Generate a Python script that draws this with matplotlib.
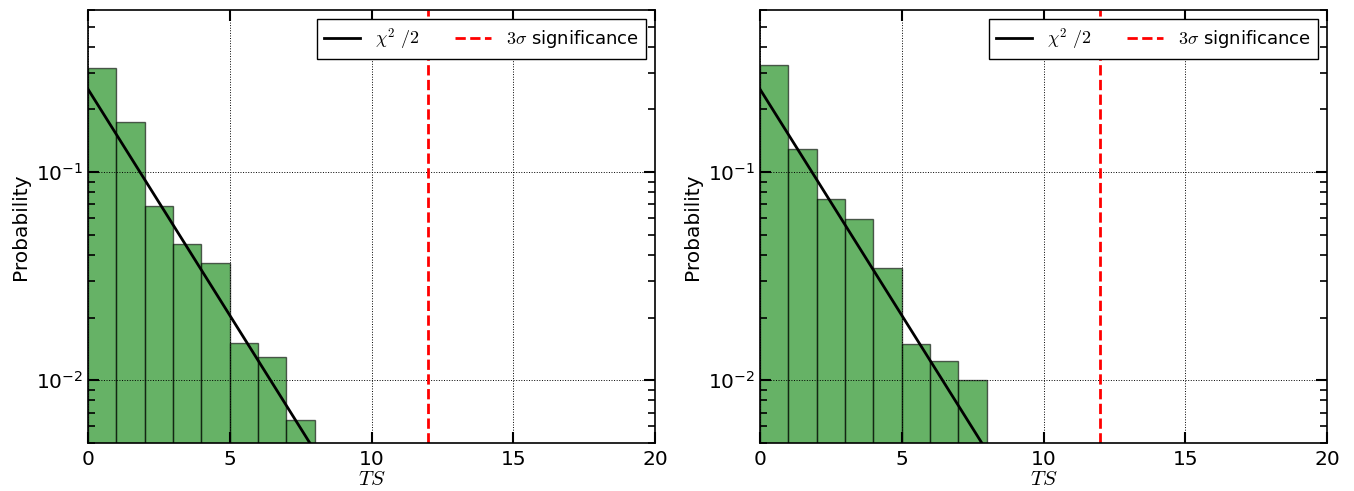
import numpy as np
import matplotlib
matplotlib.use('Agg')
import matplotlib.pyplot as plt
from matplotlib.ticker import LogLocator, MultipleLocator

# histogram of TS values (probability per unit bin)
bin_edges = [0, 1, 2, 3, 4, 5, 6, 7, 8]
prob_left = [0.316, 0.174, 0.069, 0.0452, 0.0365, 0.0151, 0.0129, 0.00646]
prob_right = [0.328, 0.129, 0.0745, 0.0595, 0.0348, 0.0150, 0.01243, 0.0100]
ts_3sigma = 12
ts_grid = np.linspace(0, 20, 400)
chi2_half = 0.25 * np.exp(-ts_grid / 2)  # chi^2 (2 dof) / 2

plt.rcParams['font.family'] = 'DejaVu Sans'
plt.rcParams['mathtext.fontset'] = 'cm'

fig = plt.figure(figsize=(13.54, 4.91), dpi=100)
ax1 = fig.add_axes([0.065, 0.0978, 0.4188, 0.8818])
ax2 = fig.add_axes([0.5613, 0.0978, 0.4188, 0.8818])

for ax, probs in [(ax1, prob_left), (ax2, prob_right)]:
    centers = np.array(bin_edges[:-1]) + 0.5
    ax.hist(centers, bins=bin_edges, weights=probs, color='green', alpha=0.6,
            edgecolor='black', linewidth=1.0)
    ax.plot(ts_grid, chi2_half, color='black', lw=2, label=r'$\chi^2\ /2$')
    ax.axvline(ts_3sigma, color='red', ls='--', lw=2, label=r'$3\sigma$ significance')
    ax.set_yscale('log')
    ax.set_xlim(0, 20)
    ax.set_ylim(0.005, 0.6)
    ax.xaxis.set_major_locator(MultipleLocator(5))
    ax.yaxis.set_minor_locator(LogLocator(base=10, subs=np.arange(2, 10)))
    ax.grid(True, which='major', color='black', ls=':', lw=0.7)
    ax.tick_params(which='both', direction='in', top=True, right=True, labelsize=14.5)
    ax.tick_params(which='major', length=8, width=1.5)
    ax.tick_params(which='minor', length=5, width=1.2)
    ax.tick_params(axis='x', pad=5)
    ax.set_xlabel(r'$TS$', fontsize=15, labelpad=0)
    ax.set_ylabel('Probability', fontsize=14.5)
    leg = ax.legend(loc='upper right', ncol=2, fontsize=13, fancybox=False,
                    framealpha=1, edgecolor='black')
    leg.get_frame().set_linewidth(1.0)
    for s in ax.spines.values():
        s.set_linewidth(1.2)

fig.savefig('out.png', dpi=100)
